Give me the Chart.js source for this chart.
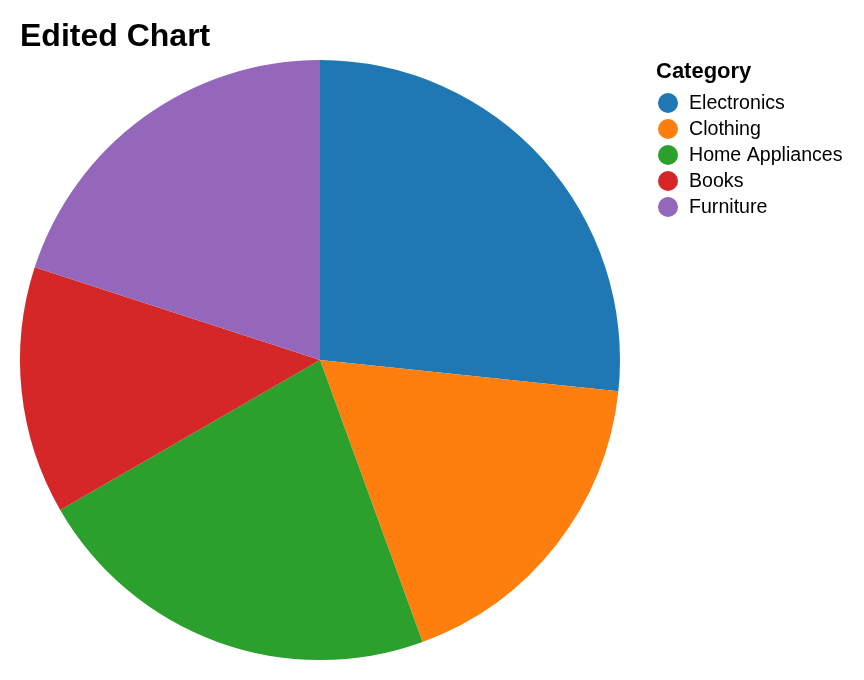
<!DOCTYPE html>
<html>
<head>
<meta charset="utf-8">
<script src="https://cdn.jsdelivr.net/npm/chart.js@4/dist/chart.umd.min.js"></script>
<style>
  html, body { margin: 0; padding: 0; background: #ffffff; }
  #wrap { width: 864px; height: 680px; position: relative; }
</style>
</head>
<body>
<div id="wrap"><canvas id="c" width="864" height="680"></canvas></div>
<script>
const chartTitle = "Edited Chart";
const legendTitle = "Category";
const categories = ["Electronics", "Clothing", "Home Appliances", "Books", "Furniture"];
const values = [1200, 800, 1000, 600, 900];
const colors = ["#1f77b4", "#ff7f0e", "#2ca02c", "#d62728", "#9467bd"];

const FONT = "'Liberation Sans', Arial, Helvetica, sans-serif";

const overlay = {
  id: 'overlay',
  afterDraw(chart) {
    const ctx = chart.ctx;
    ctx.save();
    ctx.fillStyle = '#000';
    ctx.textBaseline = 'alphabetic';
    ctx.textAlign = 'left';
    ctx.font = 'bold 32px ' + FONT;
    ctx.fillText(chartTitle, 20, 46);
    ctx.font = 'bold 22px ' + FONT;
    ctx.fillText(legendTitle, 656, 78);
    const labels = chart.data.labels;
    const bg = chart.data.datasets[0].backgroundColor;
    ctx.font = '19.6px ' + FONT;
    ctx.textBaseline = 'middle';
    labels.forEach((lab, i) => {
      const y = 103 + i * 26;
      ctx.beginPath();
      ctx.arc(668, y, 10, 0, Math.PI * 2);
      ctx.fillStyle = bg[i];
      ctx.fill();
      ctx.fillStyle = '#000';
      ctx.fillText(lab, 689, y + 1);
    });
    ctx.restore();
  }
};

new Chart(document.getElementById('c'), {
  type: 'pie',
  data: {
    labels: categories,
    datasets: [{
      data: values,
      backgroundColor: colors,
      borderWidth: 0
    }]
  },
  options: {
    responsive: false,
    animation: false,
    layout: { padding: { left: 20, top: 60, right: 244, bottom: 20 } },
    plugins: {
      legend: { display: false },
      title: { display: false },
      tooltip: { enabled: false }
    }
  },
  plugins: [overlay]
});
</script>
</body>
</html>
